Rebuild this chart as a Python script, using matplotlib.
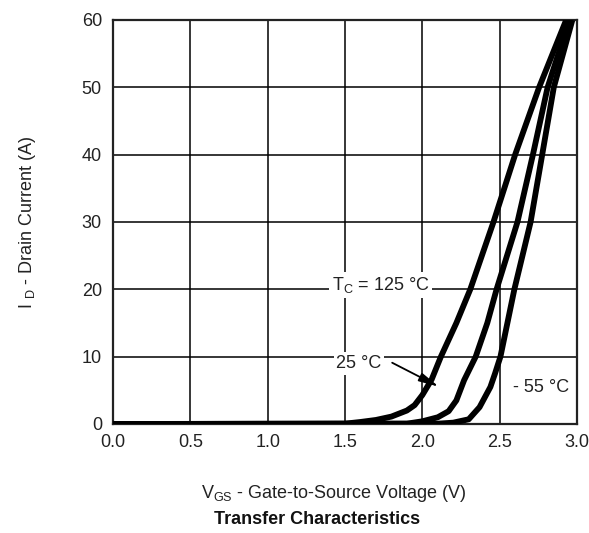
import matplotlib
matplotlib.use("Agg")
import matplotlib.pyplot as plt

plt.rcParams['font.family'] = ['Liberation Sans', 'DejaVu Sans']
plt.rcParams['mathtext.fontset'] = 'custom'
plt.rcParams['mathtext.rm'] = 'Liberation Sans'
plt.rcParams['mathtext.it'] = 'Liberation Sans:italic'

# Data (V_GS in V, I_D in A)
vgs_125 = [0, 1.5, 1.6, 1.7, 1.8, 1.9, 1.95, 2.0, 2.06, 2.12, 2.17, 2.22, 2.31, 2.46, 2.60, 2.755, 2.93]
id_125 = [0, 0.05, 0.3, 0.6, 1.1, 2.0, 2.8, 4.3, 6.6, 10, 12.5, 15, 20, 30, 40, 50, 60]

vgs_25 = [0, 1.9, 2.0, 2.1, 2.17, 2.22, 2.27, 2.345, 2.42, 2.48, 2.615, 2.715, 2.81, 2.95]
id_25 = [0, 0.05, 0.4, 1.0, 1.9, 3.5, 6.5, 10, 15, 20, 30, 40, 50, 60]

vgs_m55 = [0, 2.1, 2.2, 2.3, 2.37, 2.44, 2.47, 2.505, 2.55, 2.595, 2.70, 2.775, 2.85, 2.97]
id_m55 = [0, 0.05, 0.2, 0.7, 2.5, 5.5, 7.5, 10, 15, 20, 30, 40, 50, 60]

xticks = [0.0, 0.5, 1.0, 1.5, 2.0, 2.5, 3.0]
xtick_labels = ['0.0', '0.5', '1.0', '1.5', '2.0', '2.5', '3.0']
yticks = [0, 10, 20, 30, 40, 50, 60]
ytick_labels = ['0', '10', '20', '30', '40', '50', '60']

TXT = '#222222'
W, H = 589, 533
fig = plt.figure(figsize=(W / 100, H / 100), dpi=100)
ax = fig.add_axes([113 / W, 1 - 424 / H, (577 - 113) / W, (424 - 20) / H])

for v, i in [(vgs_125, id_125), (vgs_25, id_25), (vgs_m55, id_m55)]:
    ax.plot(v, i, color='black', lw=4.2, solid_capstyle='butt', solid_joinstyle='round', zorder=3)

ax.set_xlim(0, 3.0)
ax.set_ylim(0, 60)
ax.set_xticks(xticks)
ax.set_xticklabels(xtick_labels)
ax.set_yticks(yticks)
ax.set_yticklabels(ytick_labels)
ax.tick_params(length=0, labelsize=13, labelcolor=TXT)
ax.tick_params(axis='x', pad=7)
ax.tick_params(axis='y', pad=8)
ax.grid(True, color='black', lw=1.1, zorder=1)
ax.set_axisbelow(True)
for s in ax.spines.values():
    s.set_linewidth(1.6)
    s.set_color('#222222')

fig.text(334 / W, 1 - 493 / H, r'$\mathregular{V_{GS}}$ - Gate-to-Source Voltage (V)', ha='center', va='center',
         fontsize=13, color=TXT)
fig.text(28 / W, 1 - 222 / H, r'I $\mathregular{_{D}}$ - Drain Current (A)', ha='center', va='center',
         rotation=90, fontsize=13, color=TXT)
fig.text(317 / W, 1 - 520 / H, 'Transfer Characteristics', ha='center', va='center',
         fontsize=13, fontweight='bold', color='#111111')

bbox = dict(boxstyle='square,pad=0.15', fc='white', ec='none')
ax.text(1.73, 20.65, r'$\mathregular{T_C}$ = 125 °C', ha='center', va='center', fontsize=13,
        color=TXT, bbox=bbox, zorder=4)
ax.text(1.59, 9.0, '25 °C', ha='center', va='center', fontsize=13, color=TXT, bbox=bbox, zorder=4)
ax.annotate('', xy=(2.107, 5.54), xytext=(1.805, 9.1),
            arrowprops=dict(arrowstyle='-|>,head_length=1.0,head_width=0.22', color='black', lw=1.3,
                            mutation_scale=12, shrinkA=0, shrinkB=0), zorder=5)
ax.text(2.77, 5.35, '- 55 °C', ha='center', va='center', fontsize=13, color=TXT, bbox=bbox, zorder=4)

fig.savefig('out.png', dpi=100)
